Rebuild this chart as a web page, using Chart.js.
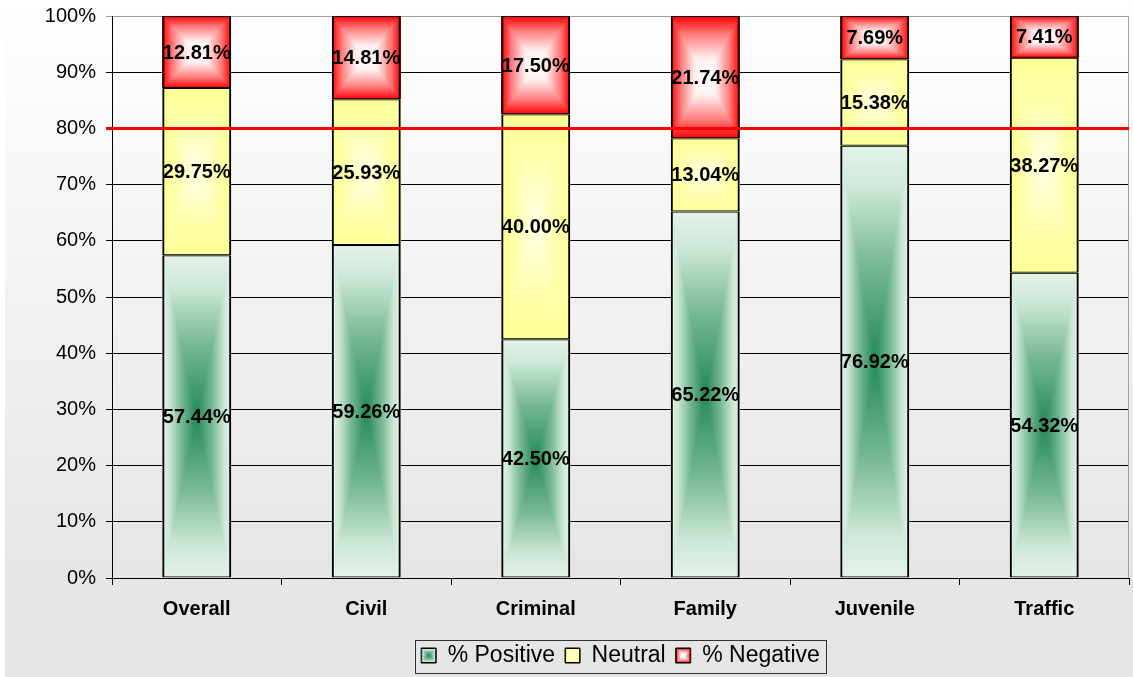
<!DOCTYPE html>
<html lang="en">
<head>
<meta charset="utf-8">
<title>Survey results by division</title>
<script src="https://cdn.jsdelivr.net/npm/chart.js@4/dist/chart.umd.min.js"></script>
<style>
    html, body { margin: 0; padding: 0; background: #fff; }
    #wrap { width: 1133px; height: 677px; position: relative; }
</style>
</head>
<body>
<div id="wrap"><canvas id="survey-chart"></canvas></div>
<script>
// Survey responses per division, in percent of respondents
const categories = ['Overall', 'Civil', 'Criminal', 'Family', 'Juvenile', 'Traffic'];
const seriesNames = ['% Positive', 'Neutral', '% Negative'];
const positive = [57.44, 59.26, 42.50, 65.22, 76.92, 54.32];
const neutral  = [29.75, 25.93, 40.00, 13.04, 15.38, 38.27];
const negative = [12.81, 14.81, 17.50, 21.74, 7.69, 7.41];
const targetLevel = 80; // red reference line

// "From centre" fills: colour stops from the middle (0) out to the edge (1)
const fillStops = [
    [[0, [35, 138, 88]], [0.45, [120, 185, 150]], [0.8, [205, 232, 216]], [1, [228, 243, 233]]],
    [[0, [255, 255, 232]], [0.6, [255, 255, 172]], [1, [255, 255, 150]]],
    [[0, [255, 255, 255]], [0.3, [255, 240, 240]], [0.7, [255, 125, 125]], [1, [255, 0, 0]]]
];

const FONT = 'Arial, "Liberation Sans", sans-serif';
Chart.defaults.font.family = FONT;
Chart.defaults.color = '#000';

function colorAt(stops, t) {
    for (let i = 1; i < stops.length; i++) {
        if (t <= stops[i][0]) {
            const [t0, c0] = stops[i - 1];
            const [t1, c1] = stops[i];
            const k = (t - t0) / (t1 - t0);
            return c0.map((v, j) => Math.round(v + (c1[j] - v) * k));
        }
    }
    return stops[stops.length - 1][1];
}

// Rectangular gradient rendered pixel by pixel on a scratch canvas
function rectGradient(w, h, stops) {
    const c = document.createElement('canvas');
    c.width = Math.max(1, Math.round(w));
    c.height = Math.max(1, Math.round(h));
    const g = c.getContext('2d');
    const img = g.createImageData(c.width, c.height);
    const hw = c.width / 2, hh = c.height / 2;
    for (let py = 0; py < c.height; py++) {
        for (let px = 0; px < c.width; px++) {
            const t = Math.min(1, Math.max(Math.abs(px + 0.5 - hw) / hw, Math.abs(py + 0.5 - hh) / hh));
            const col = colorAt(stops, t);
            const i = (py * c.width + px) * 4;
            img.data[i] = col[0];
            img.data[i + 1] = col[1];
            img.data[i + 2] = col[2];
            img.data[i + 3] = 255;
        }
    }
    g.putImageData(img, 0, 0);
    return c;
}

const backdrop = {
    id: 'backdrop',
    beforeDraw(chart) {
        const { ctx, width, height } = chart;
        ctx.save();
        ctx.fillStyle = '#fff';
        ctx.fillRect(0, 0, width, height);
        const grad = ctx.createLinearGradient(0, 0, 0, height);
        grad.addColorStop(0, '#ffffff');
        grad.addColorStop(0.83, '#e6e6e6');
        grad.addColorStop(1, '#e5e5e5');
        ctx.fillStyle = grad;
        ctx.fillRect(5, 0, width - 5, height);
        ctx.restore();
    }
};

const segmentFills = {
    id: 'segmentFills',
    beforeDatasetsDraw(chart) {
        const { ctx, chartArea } = chart;
        ctx.save();
        // plot frame on the right side
        ctx.strokeStyle = '#a0a0a0';
        ctx.lineWidth = 1;
        ctx.beginPath();
        ctx.moveTo(Math.round(chartArea.right) - 0.5, chartArea.top);
        ctx.lineTo(Math.round(chartArea.right) - 0.5, chartArea.bottom);
        ctx.stroke();

        chart.data.datasets.forEach((ds, di) => {
            chart.getDatasetMeta(di).data.forEach(bar => {
                const { x, y, base, width } = bar.getProps(['x', 'y', 'base', 'width'], true);
                const top = Math.min(y, base), bottom = Math.max(y, base);
                const img = rectGradient(width, bottom - top, fillStops[di]);
                ctx.drawImage(img, x - width / 2, top, width, bottom - top);
            });
        });
        ctx.restore();
    },
    afterDatasetsDraw(chart) {
        const { ctx, chartArea, scales } = chart;
        ctx.save();
        // reference line
        const ly = scales.y.getPixelForValue(targetLevel);
        ctx.strokeStyle = '#ff0000';
        ctx.lineWidth = 3;
        ctx.beginPath();
        ctx.moveTo(chartArea.left - 6, ly);
        ctx.lineTo(chartArea.right, ly);
        ctx.stroke();

        // value labels centred in each segment
        ctx.font = 'bold 20px ' + FONT;
        ctx.fillStyle = '#000';
        ctx.textAlign = 'center';
        ctx.textBaseline = 'middle';
        chart.data.datasets.forEach((ds, di) => {
            chart.getDatasetMeta(di).data.forEach((bar, i) => {
                const { x, y, base } = bar.getProps(['x', 'y', 'base'], true);
                ctx.fillText(ds.data[i].toFixed(2) + '%', x, (y + base) / 2 + 1);
            });
        });
        ctx.restore();
    },
    afterDraw(chart) {
        const legend = chart.legend;
        if (!legend || !legend.legendHitBoxes.length) return;
        const { ctx } = chart;
        const boxes = legend.legendHitBoxes;
        const size = legend.options.labels.boxWidth;
        const fontSize = legend.options.labels.font.size;
        ctx.save();
        ctx.strokeStyle = '#000';
        ctx.lineWidth = 1;
        boxes.forEach((hb, i) => {
            const bx = hb.left, by = hb.top + Math.max((fontSize - size) / 2, 0);
            ctx.drawImage(rectGradient(size, size, fillStops[i]), bx, by, size, size);
            ctx.strokeRect(bx + 0.5, by + 0.5, size - 1, size - 1);
        });
        // frame round the legend
        const first = boxes[0], last = boxes[boxes.length - 1];
        const left = Math.round(first.left - 6) + 0.5;
        const right = Math.round(last.left + last.width + 6) + 0.5;
        const top = Math.round(first.top - 4) + 0.5;
        ctx.strokeStyle = '#333';
        ctx.strokeRect(left, top, right - left, 33);
        ctx.restore();
    }
};

const datasets = [positive, neutral, negative].map((values, i) => ({
    label: seriesNames[i],
    data: values,
    backgroundColor: 'rgba(0,0,0,0)',
    borderColor: '#000',
    borderWidth: { top: 1, bottom: 1, left: 2, right: 2 },
    borderSkipped: false,
    categoryPercentage: 1,
    barPercentage: 0.407
}));

new Chart(document.getElementById('survey-chart'), {
    type: 'bar',
    data: { labels: categories, datasets },
    options: {
        responsive: true,
        maintainAspectRatio: false,
        animation: false,
        layout: { padding: { top: 16, right: 4, left: 0, bottom: 0 } },
        plugins: {
            tooltip: { enabled: false },
            legend: {
                position: 'bottom',
                fullSize: false,
                labels: {
                    font: { size: 23 },
                    color: '#000',
                    boxWidth: 15,
                    boxHeight: 15,
                    padding: 10,
                    generateLabels: chart => chart.data.datasets.map((ds, i) => ({
                        text: ds.label,
                        fillStyle: 'rgba(0,0,0,0)',
                        strokeStyle: '#000',
                        lineWidth: 1,
                        hidden: false,
                        datasetIndex: i
                    }))
                }
            }
        },
        scales: {
            x: {
                stacked: true,
                grid: { offset: true, drawOnChartArea: false, color: '#000', tickLength: 7 },
                border: { color: '#000' },
                ticks: { font: { size: 20, weight: 'bold' }, color: '#000', padding: 12 },
                afterFit: s => { s.height = 56; }
            },
            y: {
                stacked: true,
                min: 0,
                max: 100,
                ticks: { stepSize: 10, font: { size: 20 }, color: '#000', padding: 10, callback: v => v + '%' },
                grid: {
                    color: c => (c.tick && c.tick.value === 100 ? '#a0a0a0' : '#000'),
                    tickLength: 6
                },
                border: { color: '#000' },
                afterFit: s => {
                    s.width = 112;
                    s.paddingTop = 0;
                    s.paddingBottom = 0;
                }
            }
        }
    },
    plugins: [backdrop, segmentFills]
});
</script>
</body>
</html>
